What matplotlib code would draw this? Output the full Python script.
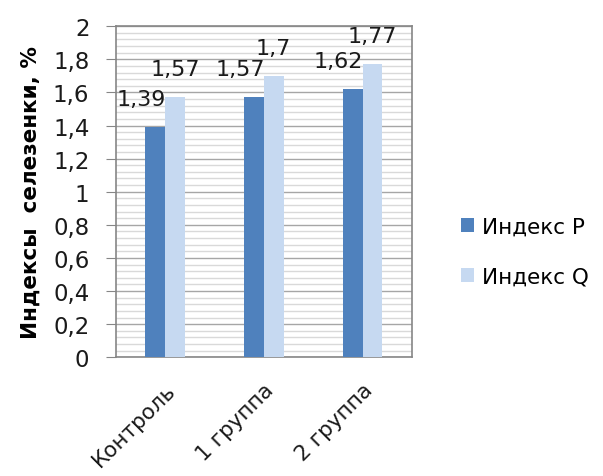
import numpy as np
import matplotlib.pyplot as plt
import matplotlib.transforms as mtransforms
from matplotlib.ticker import MultipleLocator

plt.rcParams['font.family'] = ['DejaVu Sans']

categories = ["Контроль", "1 группа", "2 группа"]
index_p = [1.39, 1.57, 1.62]
index_q = [1.57, 1.70, 1.77]
series_names = ["Индекс P", "Индекс Q"]
label_p = ["1,39", "1,57", "1,62"]
label_q = ["1,57", "1,7", "1,77"]
yticks = [0, 0.2, 0.4, 0.6, 0.8, 1.0, 1.2, 1.4, 1.6, 1.8, 2.0]
ytick_labels = ["0", "0,2", "0,4", "0,6", "0,8", "1", "1,2", "1,4", "1,6", "1,8", "2"]

col_p = "#4F81BD"
col_q = "#C6D9F1"

fig = plt.figure(figsize=(6.03, 4.77), dpi=100)
ax = fig.add_axes([0.192, 0.249, 0.491, 0.694])

x = np.arange(len(categories))
w = 0.2
bp = ax.bar(x - w / 2, index_p, w, color=col_p, label=series_names[0], zorder=3)
bq = ax.bar(x + w / 2, index_q, w, color=col_q, label=series_names[1], zorder=3)

for xi, v, t in zip(x, index_p, label_p):
    ax.annotate(t, (xi - w / 2, v), xytext=(-14, 28), textcoords="offset pixels",
                ha="center", va="center", fontsize=16, color="#1a1a1a", zorder=4)
for xi, v, t in zip(x, index_q, label_q):
    ax.annotate(t, (xi + w / 2, v), xytext=(0, 28), textcoords="offset pixels",
                ha="center", va="center", fontsize=16, color="#1a1a1a", zorder=4)

ax.set_xlim(-0.5, 2.5)
ax.set_ylim(0, 2)
ax.set_yticks(yticks)
ax.set_yticklabels(ytick_labels, fontsize=16.5, color="#1a1a1a")
ax.yaxis.set_minor_locator(MultipleLocator(0.04))
ax.grid(axis="y", which="major", color="#A6A6A6", linewidth=1.0, zorder=0)
ax.grid(axis="y", which="minor", color="#D9D9D9", linewidth=1.0, zorder=0)
ax.set_axisbelow(True)

ax.set_xticks(x)
ax.set_xticklabels(categories, rotation=45, ha="right", rotation_mode="anchor",
                   fontsize=15.5, color="#1a1a1a")
shift = mtransforms.ScaledTranslation(-8 / 100, 0, fig.dpi_scale_trans)
for lbl in ax.get_xticklabels():
    lbl.set_transform(lbl.get_transform() + shift)
ax.tick_params(axis="x", length=0, pad=16)
ax.tick_params(axis="y", which="major", length=7, color="#868686", pad=12)
ax.tick_params(axis="y", which="minor", length=0)

for s in ax.spines.values():
    s.set_color("#868686")
    s.set_linewidth(1.2)

ax.set_ylabel("Индексы  селезенки, %", fontsize=15.5, fontweight="bold", labelpad=9)

fig.legend(handles=[bp, bq], labels=series_names, loc="center left",
           bbox_to_anchor=(0.732, 0.47), frameon=False, fontsize=15.5,
           handlelength=0.6, handleheight=0.6, handletextpad=0.4, labelspacing=1.4)

fig.savefig("out.png", dpi=100)
